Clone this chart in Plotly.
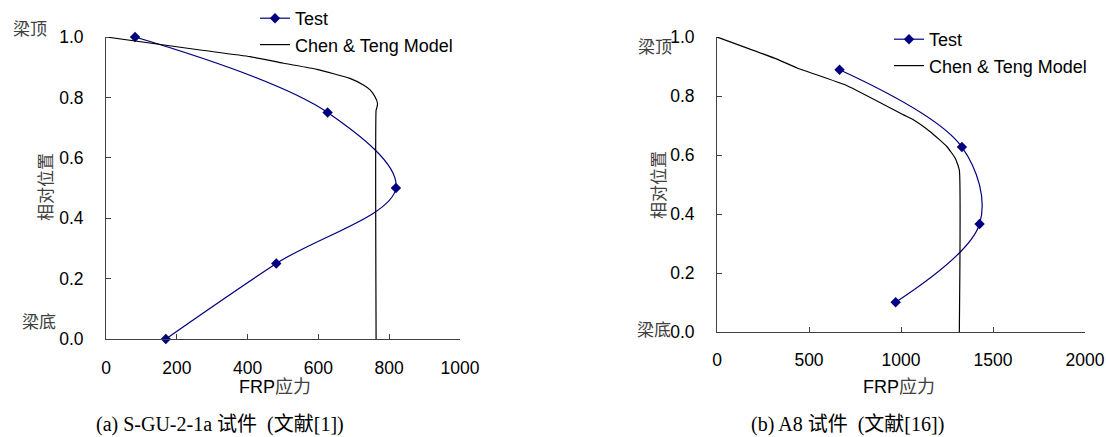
import plotly.graph_objects as go

W, H = 1106, 437

# Left chart (a)
a_test_x = [82, 626, 819, 481, 169]
a_test_y = [1.0, 0.75, 0.5, 0.25, 0.0]
a_model_x = [0, 266, 407, 501, 595, 689, 727, 746, 760, 767, 765, 763, 763]
a_model_y = [1.0, 0.957, 0.935, 0.913, 0.893, 0.863, 0.841, 0.825, 0.802, 0.780, 0.765, 0.758, 0.0]

# Right chart (b)
b_test_x = [666, 1331, 1427, 971]
b_test_y = [0.889, 0.627, 0.366, 0.101]
b_model_x = [0, 326, 435, 707, 1014, 1069, 1159, 1250, 1295, 1317, 1317]
b_model_y = [1.0, 0.925, 0.895, 0.835, 0.736, 0.719, 0.679, 0.628, 0.589, 0.549, 0.0]

a_xticks = [0, 200, 400, 600, 800, 1000]
b_xticks = [0, 500, 1000, 1500, 2000]
yticks = [0.0, 0.2, 0.4, 0.6, 0.8, 1.0]

NAVY = "#000080"
SANS = "Liberation Sans, Arial, Noto Sans CJK SC"
TICKFONT = dict(family=SANS, size=17.5, color="black")

def px_x(p):
    return p / W

def px_y(p):
    return 1 - p / H

fig = go.Figure()

fig.add_trace(go.Scatter(x=a_test_x, y=a_test_y, mode="lines+markers", name="Test",
                         line=dict(color=NAVY, width=1.2, shape="spline", smoothing=1.0),
                         marker=dict(symbol="diamond", size=8, color=NAVY), cliponaxis=False,
                         xaxis="x", yaxis="y", legend="legend"))
fig.add_trace(go.Scatter(x=a_model_x, y=a_model_y, mode="lines", name="Chen & Teng Model",
                         line=dict(color="black", width=1.2, shape="spline", smoothing=0.4),
                         cliponaxis=False, xaxis="x", yaxis="y", legend="legend"))
fig.add_trace(go.Scatter(x=b_test_x, y=b_test_y, mode="lines+markers", name="Test",
                         line=dict(color=NAVY, width=1.2, shape="spline", smoothing=1.0),
                         marker=dict(symbol="diamond", size=8, color=NAVY), cliponaxis=False,
                         xaxis="x2", yaxis="y2", legend="legend2"))
fig.add_trace(go.Scatter(x=b_model_x, y=b_model_y, mode="lines", name="Chen & Teng Model",
                         line=dict(color="black", width=1.2, shape="spline", smoothing=0.4),
                         cliponaxis=False, xaxis="x2", yaxis="y2", legend="legend2"))

axis_common = dict(showgrid=False, zeroline=False, showline=True, linecolor="#404040",
                   linewidth=1, ticks="inside", ticklen=5, tickcolor="#404040",
                   tickfont=TICKFONT, automargin=False, fixedrange=True)

LEGFONT = dict(family=SANS, size=18, color="black")

fig.update_layout(
    template="none",
    width=W, height=H,
    margin=dict(l=0, r=0, t=0, b=0, autoexpand=False),
    paper_bgcolor="white", plot_bgcolor="white",
    showlegend=True,
    xaxis=dict(domain=[px_x(106), px_x(460)], range=[0, 1000], tickvals=a_xticks,
               anchor="y", ticklabelstandoff=13, **axis_common),
    yaxis=dict(domain=[px_y(339), px_y(37)], range=[0, 1.0], tickvals=yticks,
               tickformat=".1f", anchor="x", ticklabelstandoff=18, **axis_common),
    xaxis2=dict(domain=[px_x(717), px_x(1085)], range=[0, 2000], tickvals=b_xticks,
                anchor="y2", ticklabelstandoff=12, **axis_common),
    yaxis2=dict(domain=[px_y(332), px_y(37)], range=[0, 1.0], tickvals=yticks,
                tickformat=".1f", anchor="x2", ticklabelstandoff=18, **axis_common),
    legend=dict(x=px_x(255), y=px_y(0), xanchor="left", yanchor="top",
                bgcolor="rgba(0,0,0,0)", font=LEGFONT, itemwidth=30, tracegroupgap=0),
    legend2=dict(x=px_x(889), y=px_y(21), xanchor="left", yanchor="top",
                 bgcolor="rgba(0,0,0,0)", font=LEGFONT, itemwidth=30, tracegroupgap=0),
)

CJK = "Noto Sans CJK SC"
GREY = "#404040"
ann = []
def add_text(x, y, text, size=18, color="black", family=SANS, angle=0, xanchor="center"):
    ann.append(dict(x=px_x(x), y=px_y(y), xref="paper", yref="paper", text=text, showarrow=False,
                    font=dict(family=family, size=size, color=color), textangle=angle,
                    xanchor=xanchor, yanchor="middle"))

xtitle = "FRP<span style='color:#404040'>应力</span>"
add_text(275, 387, xtitle)
add_text(899, 387, xtitle)
add_text(44, 187, "相对位置", color=GREY, family=CJK, angle=-90, size=17)
add_text(657, 185, "相对位置", color=GREY, family=CJK, angle=-90, size=17)
add_text(30, 27, "梁顶", color=GREY, family=CJK, size=17)
add_text(39, 320, "梁底", color=GREY, family=CJK, size=17)
add_text(655, 45, "梁顶", color=GREY, family=CJK, size=17)
add_text(654, 328, "梁底", color=GREY, family=CJK, size=17)
SERIF = "Liberation Serif, Times New Roman, Noto Sans CJK SC"
add_text(220, 424, "(a) S-GU-2-1a 试件  (文献[1])", family=SERIF, size=20)
add_text(847, 424, "(b) A8 试件  (文献[16])", family=SERIF, size=20)

fig.update_layout(annotations=ann)

fig.write_html("out.html")
